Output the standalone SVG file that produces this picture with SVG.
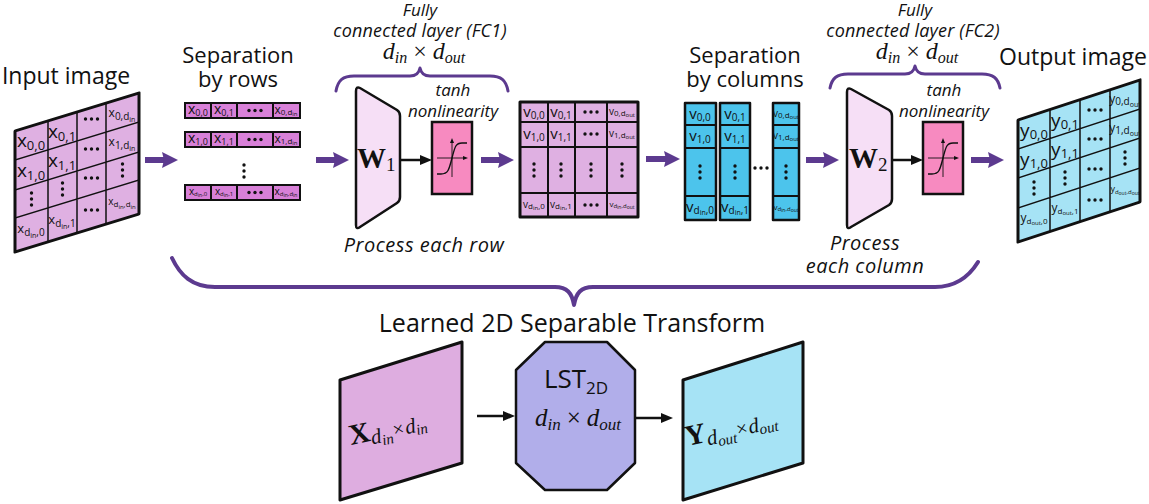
<svg xmlns="http://www.w3.org/2000/svg" width="1149" height="504" viewBox="0 0 1149 504">
<style>
.sans{font-family:"Open Sans","Noto Sans",sans-serif;fill:#111}
.ser{font-family:"Liberation Serif","DejaVu Serif",serif;fill:#111}
.ttl{font-size:22px;text-anchor:middle}
.it{font-style:italic;font-size:17px;text-anchor:middle}
.mi{font-style:italic}
.cb{font-size:19px;text-anchor:middle}
.cm{font-size:15px;text-anchor:middle}
.cr{font-size:14px;text-anchor:middle}
.cs{font-size:12px;text-anchor:middle}
.s1{font-size:13px}
.s2{font-size:10px}
.s3{font-size:7px}
.s4{font-size:8px}
.s9{font-size:9px}
.s5{font-size:6px}
.gl{fill:none;stroke:#111;stroke-width:1.5}
.bd{stroke:#111;stroke-width:3;stroke-linejoin:round}
.cell{stroke:#111;stroke-width:2}
.pa{fill:none;stroke:#5c3a8f;stroke-width:6;marker-end:url(#pah)}
.ba{fill:none;stroke:#111;stroke-width:2.5;marker-end:url(#bah)}
.br{fill:none;stroke:#5c3a8f;stroke-width:3;stroke-linecap:round;stroke-linejoin:round}
.dot{fill:#111}
</style>
<defs>
<marker id="pah" viewBox="0 0 16 16" markerUnits="userSpaceOnUse" markerWidth="16" markerHeight="16" refX="3" refY="8" orient="auto"><path d="M0,0 L16,8 L0,16 L2,8 Z" fill="#5c3a8f"/></marker>
<marker id="bah" viewBox="0 0 12 10" markerUnits="userSpaceOnUse" markerWidth="12" markerHeight="10" refX="1" refY="5" orient="auto"><path d="M0,0 L12,5 L0,10 Z" fill="#111"/></marker>
<g id="vd" class="dot"><circle cx="0" cy="-6" r="1.7"/><circle cx="0" cy="0" r="1.7"/><circle cx="0" cy="6" r="1.7"/></g>
<g id="hd" class="dot"><circle cx="-6" cy="0" r="1.7"/><circle cx="0" cy="0" r="1.7"/><circle cx="6" cy="0" r="1.7"/></g>
<g id="tanhc">
<rect x="0" y="0" width="40" height="72" fill="#f78ac0" stroke="#111" stroke-width="2.5"/>
<path d="M5,36 H33" stroke="#111" stroke-width="0.9" fill="none"/><path d="M31,34 L36,36 L31,38 Z" fill="#111"/>
<path d="M20,55 V19" stroke="#111" stroke-width="0.9" fill="none"/><path d="M18,21 L20,16 L22,21 Z" fill="#111"/>
<path d="M5,52 L9,52 C16,52 17,48 20,36 C23,24 24,21 30,21 L35,21" stroke="#111" stroke-width="1.4" fill="none"/>
</g>
</defs>

<!-- Titles -->
<g id="labels">
<text class="sans ttl" x="66" y="84" style="font-size:23px">Input image</text>
<text class="sans ttl" x="238" y="63">Separation</text>
<text class="sans ttl" x="238" y="87">by rows</text>
<text class="sans ttl" x="745" y="63">Separation</text>
<text class="sans ttl" x="745" y="87">by columns</text>
<text class="sans ttl" x="1073" y="65" style="font-size:23px">Output image</text>
<text class="sans it" x="420" y="16" style="font-size:17px">Fully</text>
<text class="sans it" x="420" y="37" style="font-size:18px;letter-spacing:0.2px">connected layer (FC1)</text>
<text class="ser mi" x="424" y="59" text-anchor="middle" font-size="24">d<tspan font-size="16" dy="4">in</tspan><tspan dy="-4" font-style="normal" dx="6">×</tspan><tspan dx="6">d</tspan><tspan font-size="16" dy="4">out</tspan></text>
<text class="sans it" x="915" y="16" style="font-size:17px">Fully</text>
<text class="sans it" x="913" y="37" style="font-size:18px;letter-spacing:0.2px">connected layer (FC2)</text>
<text class="ser mi" x="917" y="59" text-anchor="middle" font-size="24">d<tspan font-size="16" dy="4">in</tspan><tspan dy="-4" font-style="normal" dx="6">×</tspan><tspan dx="6">d</tspan><tspan font-size="16" dy="4">out</tspan></text>
<text class="sans it" x="453" y="96">tanh</text>
<text class="sans it" x="453" y="117">nonlinearity</text>
<text class="sans it" x="944" y="96">tanh</text>
<text class="sans it" x="944" y="117">nonlinearity</text>
<text class="sans it" x="424" y="252" style="font-size:20px;letter-spacing:0.5px">Process each row</text>
<text class="sans it" x="865" y="250" style="font-size:20px;letter-spacing:0.5px">Process</text>
<text class="sans it" x="865" y="273" style="font-size:20px;letter-spacing:0.5px">each column</text>
<text class="sans ttl" x="572" y="332" style="font-size:25px">Learned 2D Separable Transform</text>
</g>

<!-- Input image -->
<g id="input-image">
<g transform="matrix(1,-0.3065,0,1,15,131)">
<rect x="0" y="0" width="124" height="121" fill="#dfb0e2"/>
<path class="gl" d="M33,0 V121 M62,0 V121 M91,0 V121 M0,29 H124 M0,59 H124 M0,87 H124"/>
<rect x="0" y="0" width="124" height="121" fill="none" class="bd"/>
</g>
<text class="sans cb" x="31" y="147">x<tspan class="s1" dy="3">0,0</tspan></text>
<text class="sans cb" x="62" y="138">x<tspan class="s1" dy="3">0,1</tspan></text>
<use href="#hd" x="91.5" y="119"/>
<text class="sans cs" x="122" y="117">x<tspan class="s2" dy="3">0,d</tspan><tspan class="s3" dy="2">in</tspan></text>
<text class="sans cb" x="31" y="177">x<tspan class="s1" dy="3">1,0</tspan></text>
<text class="sans cb" x="62" y="167">x<tspan class="s1" dy="3">1,1</tspan></text>
<use href="#hd" x="91.5" y="149"/>
<text class="sans cs" x="122" y="146">x<tspan class="s2" dy="3">1,d</tspan><tspan class="s3" dy="2">in</tspan></text>
<use href="#vd" x="31.5" y="199"/>
<use href="#vd" x="62.5" y="189"/>
<use href="#hd" x="91.5" y="178"/>
<use href="#vd" x="122.5" y="170"/>
<text class="sans cs" x="31" y="233" style="font-size:13px">x<tspan class="s2" dy="3">d</tspan><tspan class="s3" dy="2">in</tspan><tspan class="s2" dy="-2">,0</tspan></text>
<text class="sans cs" x="62" y="224" style="font-size:13px">x<tspan class="s2" dy="3">d</tspan><tspan class="s3" dy="2">in</tspan><tspan class="s2" dy="-2">,1</tspan></text>
<use href="#hd" x="91.5" y="210"/>
<text class="sans" x="122" y="205" style="font-size:10px;text-anchor:middle">x<tspan class="s4" dy="2">d</tspan><tspan class="s5" dy="2">in</tspan><tspan class="s4" dy="-2">,d</tspan><tspan class="s5" dy="2">in</tspan></text>
</g>

<!-- Separation by rows -->
<g id="rows">
<g fill="#d880d8" class="cell">
<rect x="185" y="103" width="115" height="15"/>
<rect x="185" y="132" width="115" height="15"/>
<rect x="185" y="185" width="115" height="15"/>
</g>
<path class="cell" d="M211,103 V118 M237,103 V118 M273,103 V118 M211,132 V147 M237,132 V147 M273,132 V147 M211,185 V200 M237,185 V200 M273,185 V200"/>
<text class="sans cr" x="198" y="114">x<tspan class="s9" dy="2">0,0</tspan></text>
<text class="sans cr" x="224" y="114">x<tspan class="s9" dy="2">0,1</tspan></text>
<use href="#hd" x="255" y="110.5"/>
<text class="sans" x="286" y="114" style="font-size:12px;text-anchor:middle">x<tspan class="s4" dy="1">0,d</tspan><tspan class="s5" dy="1">in</tspan></text>
<text class="sans cr" x="198" y="143">x<tspan class="s9" dy="2">1,0</tspan></text>
<text class="sans cr" x="224" y="143">x<tspan class="s9" dy="2">1,1</tspan></text>
<use href="#hd" x="255" y="139.5"/>
<text class="sans" x="286" y="143" style="font-size:12px;text-anchor:middle">x<tspan class="s4" dy="1">1,d</tspan><tspan class="s5" dy="1">in</tspan></text>
<use href="#vd" x="244" y="171"/>
<text class="sans" x="198" y="195" style="font-size:10px;text-anchor:middle">x<tspan class="s5" dy="1">d</tspan><tspan style="font-size:5px" dy="1">in</tspan><tspan class="s5" dy="-1">,0</tspan></text>
<text class="sans" x="224" y="195" style="font-size:10px;text-anchor:middle">x<tspan class="s5" dy="1">d</tspan><tspan style="font-size:5px" dy="1">in</tspan><tspan class="s5" dy="-1">,1</tspan></text>
<use href="#hd" x="255" y="192.5"/>
<text class="sans" x="286" y="195" style="font-size:10px;text-anchor:middle">x<tspan class="s5" dy="1">d</tspan><tspan style="font-size:5px" dy="1">in</tspan><tspan class="s5" dy="-1">,d</tspan><tspan style="font-size:5px" dy="1">in</tspan></text>
</g>

<!-- FC1 -->
<g id="fc1">
<path d="M356,91 Q356,86 360,88 L397,110 Q400,112 400,116 L400,197 Q400,201 397,203 L360,227 Q356,230 356,225 Z" fill="#f6dff6" stroke="#111" stroke-width="2.5"/>
<text class="ser" x="357" y="168" font-size="29" font-weight="bold">W<tspan font-size="19" font-weight="normal" dy="3">1</tspan></text>
</g>
<g id="tanh1"><use href="#tanhc" x="432" y="122"/></g>

<!-- V matrix -->
<g id="v-matrix">
<rect x="520" y="102" width="118" height="115" fill="#dfb0e2"/>
<path class="cell" d="M548,102 V217 M575,102 V217 M607,102 V217 M520,122 H638 M520,147 H638 M520,193 H638"/>
<rect x="520" y="102" width="118" height="115" fill="none" class="bd"/>
<text class="sans cm" x="534" y="117">v<tspan class="s2" dy="2">0,0</tspan></text>
<text class="sans cm" x="561" y="117">v<tspan class="s2" dy="2">0,1</tspan></text>
<use href="#hd" x="591" y="112"/>
<text class="sans" x="622" y="115" style="font-size:10px;text-anchor:middle">v<tspan class="s4" dy="1">0,d</tspan><tspan class="s5" dy="1">out</tspan></text>
<text class="sans cm" x="534" y="139">v<tspan class="s2" dy="2">1,0</tspan></text>
<text class="sans cm" x="561" y="139">v<tspan class="s2" dy="2">1,1</tspan></text>
<use href="#hd" x="591" y="134"/>
<text class="sans" x="622" y="137" style="font-size:10px;text-anchor:middle">v<tspan class="s4" dy="1">1,d</tspan><tspan class="s5" dy="1">out</tspan></text>
<use href="#vd" x="534" y="170"/>
<use href="#vd" x="561" y="170"/>
<use href="#vd" x="591" y="170"/>
<use href="#vd" x="622" y="170"/>
<text class="sans" x="534" y="208" style="font-size:10px;text-anchor:middle">v<tspan class="s4" dy="1">d</tspan><tspan class="s5" dy="1">in</tspan><tspan class="s4" dy="-1">,0</tspan></text>
<text class="sans" x="561" y="208" style="font-size:10px;text-anchor:middle">v<tspan class="s4" dy="1">d</tspan><tspan class="s5" dy="1">in</tspan><tspan class="s4" dy="-1">,1</tspan></text>
<use href="#hd" x="591" y="205"/>
<text class="sans" x="622" y="207" style="font-size:8px;text-anchor:middle">v<tspan class="s5" dy="1">d</tspan><tspan style="font-size:5px" dy="1">in</tspan><tspan class="s5" dy="-1">,d</tspan><tspan style="font-size:5px" dy="1">out</tspan></text>
</g>

<!-- Separation by columns -->
<g id="columns">
<g fill="#4cc4ec" class="bd" style="stroke-width:2.5">
<rect x="685" y="103" width="31" height="117"/>
<rect x="720" y="103" width="30" height="117"/>
<rect x="773" y="103" width="26" height="117"/>
</g>
<path class="cell" d="M685,125 H716 M685,148 H716 M685,196 H716 M720,125 H750 M720,148 H750 M720,196 H750 M773,125 H799 M773,148 H799 M773,196 H799"/>
<text class="sans cm" x="700" y="119">v<tspan class="s2" dy="2">0,0</tspan></text>
<text class="sans cm" x="735" y="119">v<tspan class="s2" dy="2">0,1</tspan></text>
<text class="sans" x="786" y="117" style="font-size:10px;text-anchor:middle">v<tspan class="s4" dy="1">0,d</tspan><tspan class="s5" dy="1">out</tspan></text>
<text class="sans cm" x="700" y="141">v<tspan class="s2" dy="2">1,0</tspan></text>
<text class="sans cm" x="735" y="141">v<tspan class="s2" dy="2">1,1</tspan></text>
<text class="sans" x="786" y="139" style="font-size:10px;text-anchor:middle">v<tspan class="s4" dy="1">1,d</tspan><tspan class="s5" dy="1">out</tspan></text>
<use href="#vd" x="700" y="172"/>
<use href="#vd" x="735" y="172"/>
<use href="#vd" x="786" y="172"/>
<use href="#hd" x="761" y="168"/>
<text class="sans cm" x="700" y="212">v<tspan class="s2" dy="2">d</tspan><tspan class="s3" dy="1">in</tspan><tspan class="s2" dy="-1">,0</tspan></text>
<text class="sans cm" x="735" y="212">v<tspan class="s2" dy="2">d</tspan><tspan class="s3" dy="1">in</tspan><tspan class="s2" dy="-1">,1</tspan></text>
<text class="sans" x="786" y="210" style="font-size:8px;text-anchor:middle">v<tspan class="s5" dy="1">d</tspan><tspan style="font-size:5px" dy="1">in</tspan><tspan class="s5" dy="-1">,d</tspan><tspan style="font-size:5px" dy="1">out</tspan></text>
</g>

<!-- FC2 -->
<g id="fc2">
<path d="M847,92 Q847,87 851,89 L889,110 Q892,112 892,116 L892,199 Q892,203 889,205 L851,227 Q847,230 847,225 Z" fill="#f6dff6" stroke="#111" stroke-width="2.5"/>
<text class="ser" x="849" y="168" font-size="29" font-weight="bold">W<tspan font-size="19" font-weight="normal" dy="3">2</tspan></text>
</g>
<g id="tanh2"><use href="#tanhc" x="923" y="122"/></g>

<!-- Output image -->
<g id="output-image">
<g transform="matrix(1,-0.328,0,1,1018,120)">
<rect x="0" y="0" width="122" height="122" fill="#a6e3f5"/>
<path class="gl" d="M32,0 V122 M62,0 V122 M92,0 V122 M0,29 H122 M0,58 H122 M0,88 H122"/>
<rect x="0" y="0" width="122" height="122" fill="none" class="bd"/>
</g>
<text class="sans cb" x="1034" y="137">y<tspan class="s1" dy="2">0,0</tspan></text>
<text class="sans cb" x="1065" y="127">y<tspan class="s1" dy="2">0,1</tspan></text>
<use href="#hd" x="1095" y="110"/>
<text class="sans cs" x="1125" y="103">y<tspan class="s2" dy="2">0,d</tspan><tspan class="s3" dy="2">out</tspan></text>
<text class="sans cb" x="1034" y="166">y<tspan class="s1" dy="2">1,0</tspan></text>
<text class="sans cb" x="1065" y="156">y<tspan class="s1" dy="2">1,1</tspan></text>
<use href="#hd" x="1095" y="139"/>
<text class="sans cs" x="1125" y="132">y<tspan class="s2" dy="2">1,d</tspan><tspan class="s3" dy="2">out</tspan></text>
<use href="#vd" x="1034" y="188"/>
<use href="#vd" x="1065" y="178"/>
<use href="#hd" x="1095" y="169"/>
<use href="#vd" x="1125" y="158"/>
<text class="sans" x="1034" y="222" style="font-size:12px;text-anchor:middle">y<tspan class="s4" dy="2">d</tspan><tspan class="s5" dy="1">out</tspan><tspan class="s4" dy="-1">,0</tspan></text>
<text class="sans" x="1065" y="212" style="font-size:12px;text-anchor:middle">y<tspan class="s4" dy="2">d</tspan><tspan class="s5" dy="1">out</tspan><tspan class="s4" dy="-1">,1</tspan></text>
<use href="#hd" x="1095" y="200"/>
<text class="sans" x="1125" y="192" style="font-size:9px;text-anchor:middle">y<tspan class="s5" dy="2">d</tspan><tspan style="font-size:5px" dy="1">out</tspan><tspan class="s5" dy="-1">,d</tspan><tspan style="font-size:5px" dy="1">out</tspan></text>
</g>

<!-- Bottom summary -->
<g id="x-block">
<polygon points="340,380 462,342 462,463 340,500" fill="#deade0" class="bd"/>
<text class="ser" transform="translate(351,445) rotate(-12)" font-size="29"><tspan font-weight="bold">X</tspan><tspan font-style="italic" font-size="21" dy="4">d</tspan><tspan font-style="italic" font-size="15" dy="3">in</tspan><tspan font-size="20" dy="-6" dx="1">×</tspan><tspan font-style="italic" font-size="21" dx="1">d</tspan><tspan font-style="italic" font-size="15" dy="3">in</tspan></text>
</g>
<g id="lst2d">
<polygon points="545,342 607,342 635,370 635,463 607,490 545,490 516,463 516,370" fill="#b1aeea" class="bd" style="stroke-width:2.5"/>
<text class="sans" x="576" y="388" text-anchor="middle" font-size="26">LST<tspan font-size="17" dy="6">2D</tspan></text>
<text class="ser mi" x="578" y="426" text-anchor="middle" font-size="25">d<tspan font-size="17" dy="4">in</tspan><tspan dy="-4" font-style="normal" dx="6">×</tspan><tspan dx="6">d</tspan><tspan font-size="17" dy="4">out</tspan></text>
</g>
<g id="y-block">
<polygon points="683,380 803,342 803,463 683,500" fill="#a6e3f5" class="bd"/>
<text class="ser" transform="translate(687,446) rotate(-12)" font-size="29"><tspan font-weight="bold">Y</tspan><tspan font-style="italic" font-size="21" dy="4">d</tspan><tspan font-style="italic" font-size="15" dy="3">out</tspan><tspan font-size="20" dy="-6" dx="1">×</tspan><tspan font-style="italic" font-size="21" dx="1">d</tspan><tspan font-style="italic" font-size="15" dy="3">out</tspan></text>
</g>

<!-- Connectors -->
<g id="connectors">
<path class="pa" d="M145,160 H165"/>
<path class="pa" d="M316,160 H336"/>
<path class="pa" d="M481,160 H501"/>
<path class="pa" d="M646,159 H667"/>
<path class="pa" d="M806,160 H826"/>
<path class="pa" d="M971,160 H991"/>
<path class="ba" d="M400,160 H421"/>
<path class="ba" d="M892,160 H912"/>
<path class="ba" d="M477,416 H504"/>
<path class="ba" d="M635,418 H662"/>
<path class="br" d="M336,91 C338,80 343,76 354,76 L410,76 C416,76 419,73 420,68 C421,73 424,76 430,76 L490,76 C501,76 506,80 508,91"/>
<path class="br" d="M830,88 C832,78 837,74 848,74 L905,74 C911,74 914,71 915,66 C916,71 919,74 925,74 L982,74 C993,74 998,78 1000,88"/>
<path class="br" style="stroke-width:4" d="M172,258 C180,275 192,287 215,287 L555,287 C567,287 572,293 574,305 C576,293 581,287 593,287 L935,287 C958,287 970,275 978,262"/>
</g>
</svg>
